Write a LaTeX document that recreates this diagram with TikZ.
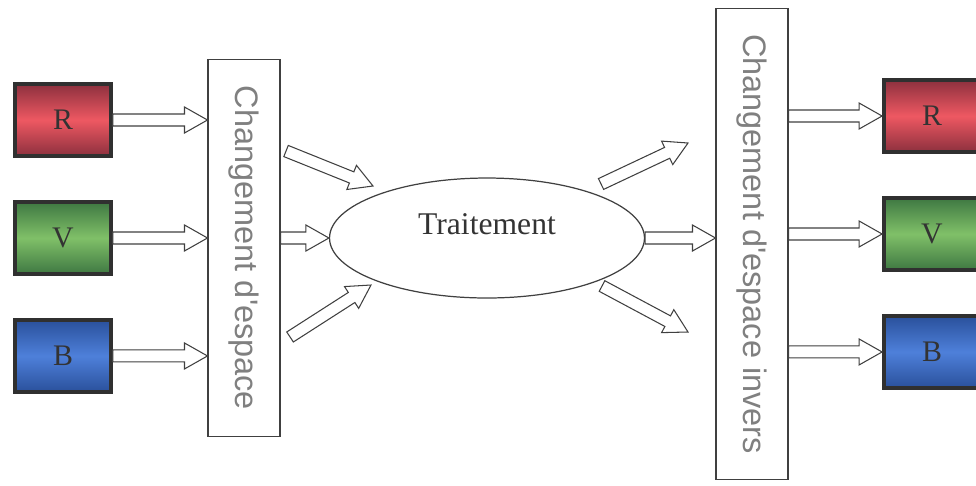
\documentclass[tikz,border=0pt]{standalone}
\usepackage{fontspec}
\setmainfont{Liberation Serif}
\newfontfamily\chgfont{Liberation Sans}
\usepackage{graphicx}
\usetikzlibrary{positioning,shapes.geometric,calc}
\definecolor{rouge}{RGB}{238,88,98}
\definecolor{rougef}{RGB}{140,48,62}
\definecolor{vert}{RGB}{128,192,104}
\definecolor{vertf}{RGB}{62,120,66}
\definecolor{bleu}{RGB}{78,128,218}
\definecolor{bleuf}{RGB}{42,80,155}
\definecolor{bord}{RGB}{48,48,48}
\tikzstyle{canal} = [rectangle, draw=bord, line width=2.2pt, minimum width=1.92cm, minimum height=1.45cm, text centered, text=black!80, font=\fontsize{17}{19}\selectfont]
\tikzstyle{rbox} = [canal, top color=rougef, bottom color=rougef, middle color=rouge]
\tikzstyle{vbox} = [canal, top color=vertf, bottom color=vertf, middle color=vert]
\tikzstyle{bbox} = [canal, top color=bleuf, bottom color=bleuf, middle color=bleu]
\tikzstyle{chg} = [rectangle, draw=black!75, line width=0.6pt, fill=white, minimum width=1.44cm, text=black!50, font=\chgfont\fontsize{18.5}{20}\selectfont]
\tikzstyle{trait} = [ellipse, draw=black!75, line width=0.7pt, minimum width=6.3cm, minimum height=2.4cm, text depth=0.56cm, text=black!80, font=\fontsize{18}{20}\selectfont]
\tikzstyle{hollow} = [draw=black!75, line width=0.6pt, fill=white,
  to path={let \p1=(\tikztostart), \p2=(\tikztotarget),
    \n1={atan2(\y2-\y1,\x2-\x1)}, \n2={veclen(\x2-\x1,\y2-\y1)} in
    (\p1) ++(\n1+90:0.12cm) -- ++(\n1:{\n2-0.46cm}) -- ++(\n1+90:0.14cm) -- (\p2)
    -- ++(\n1+180+29.48:0.5284cm) -- ++(\n1+90:0.14cm) -- ++(\n1+180:{\n2-0.46cm}) -- cycle}]
\begin{document}
\begin{tikzpicture}[x=0.02cm, y=-0.02cm, node distance=2.36cm]
			\useasboundingbox (0,0) rectangle (976,485);
			% entree
			\node (R1) [rbox] at (63,120) {R};
			\node (V1) [vbox,below of=R1] {V};
			\node (B1) [bbox,below of=V1] {B};
			\node (chg1) [chg,minimum height=7.54cm] at (244,248) {\rotatebox{-90}{Changement d'espace}};
			\node (trt) [trait] at (487,238) {Traitement};
			\node (chg2) [chg,minimum height=9.44cm] at (752,244) {\rotatebox{-90}{Changement d'espace invers}};
			% sortie
			\node (R2) [rbox] at (932,116) {R};
			\node (V2) [vbox,below of=R2] {V};
			\node (B2) [bbox,below of=V2] {B};

			\coordinate (in1) at (286,151);
			\coordinate (to1) at (373,186);
			\coordinate (in3) at (290,337);
			\coordinate (to3) at (371,285);
			\coordinate (out1) at (601,184);
			\coordinate (fr1) at (688,143);
			\coordinate (out3) at (602,286);
			\coordinate (fr3) at (688,332);

			\draw [hollow] (R1.east) to (chg1.west |- R1.east);
			\draw [hollow] (V1.east) to (chg1.west |- V1.east);
			\draw [hollow] (B1.east) to (chg1.west |- B1.east);
			\draw [hollow] (in1) to (to1);
			\draw [hollow] (chg1.east |- trt.west) to (trt.west);
			\draw [hollow] (in3) to (to3);
			\draw [hollow] (out1) to (fr1);
			\draw [hollow] (trt.east) to (chg2.west |- trt.east);
			\draw [hollow] (out3) to (fr3);
			\draw [hollow] (chg2.east |- R2.west) to (R2.west);
			\draw [hollow] (chg2.east |- V2.west) to (V2.west);
			\draw [hollow] (chg2.east |- B2.west) to (B2.west);

			\end{tikzpicture}
\end{document}
